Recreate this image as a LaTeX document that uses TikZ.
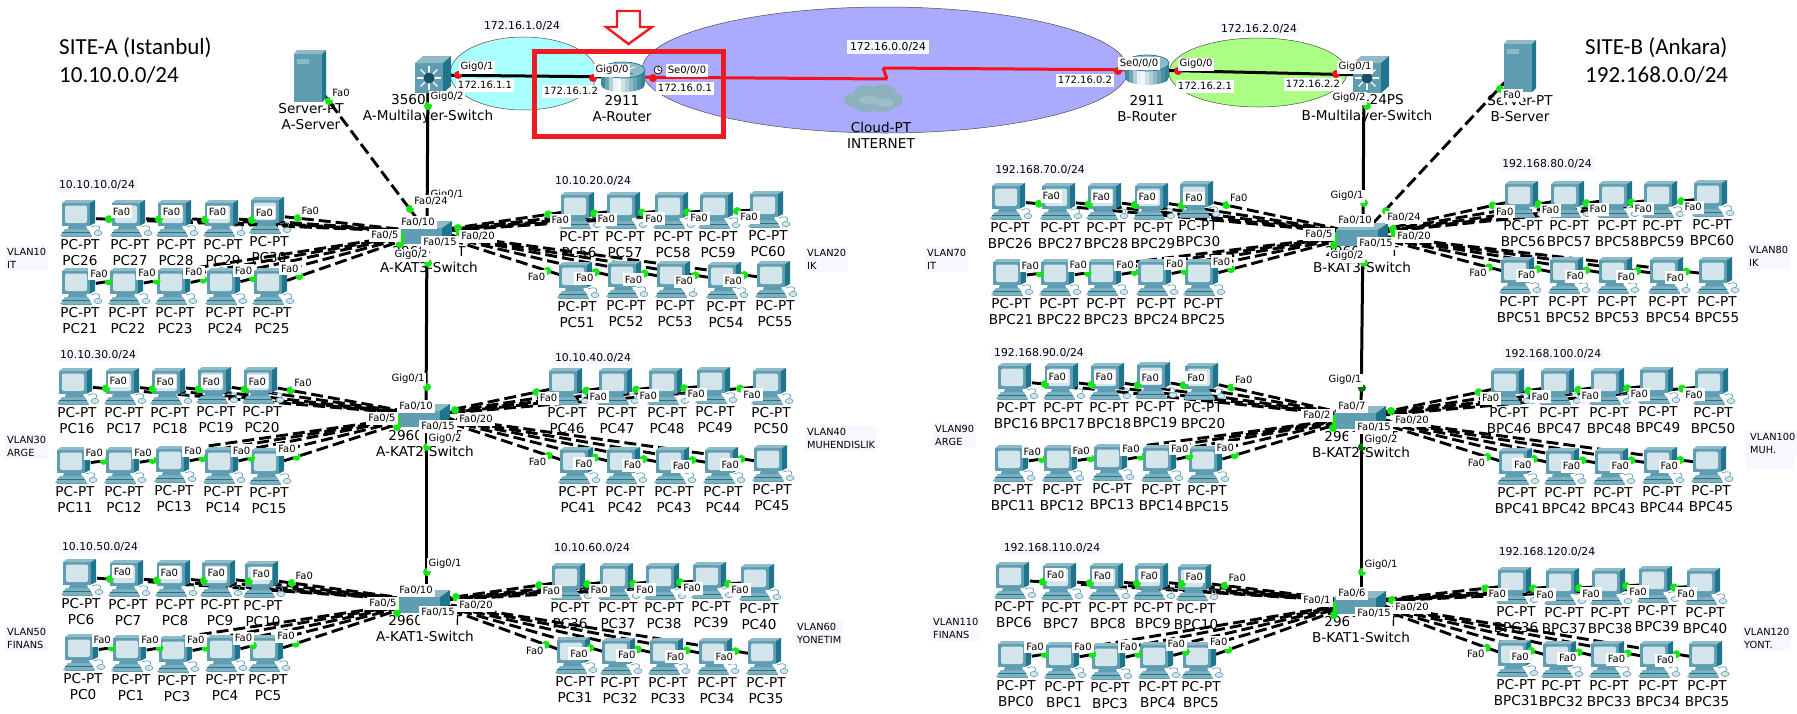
\documentclass[tikz,border=0pt]{standalone}
\usepackage{fontspec}
\setmainfont{DejaVu Sans}
\newfontfamily\titlefont{Carlito}
\usetikzlibrary{calc,shapes.geometric}
\definecolor{monfront}{HTML}{5E9DB2}
\definecolor{montop}{HTML}{8FBBC8}
\definecolor{monside}{HTML}{1F758C}
\definecolor{screen}{HTML}{D3E4EB}
\definecolor{pcbase}{HTML}{7FB0C0}
\definecolor{gdot}{HTML}{14E614}
\definecolor{rdot}{HTML}{F5101A}
\definecolor{boxred}{HTML}{ED1C24}
\definecolor{notebg}{HTML}{F7F8FF}
\definecolor{netcyan}{HTML}{AAFFFF}
\definecolor{netblue}{HTML}{AAAAFF}
\definecolor{netgreen}{HTML}{AAFF84}
\tikzset{
  x=1pt,y=-1pt,
  anchorpt/.style={inner sep=0pt,outer sep=0pt,minimum size=0pt},
  devlabel/.style={font=\fontsize{13.6}{16}\selectfont,align=center,inner sep=0pt},
  port/.style={font=\fontsize{10}{11}\selectfont,fill=white,inner xsep=2pt,inner ysep=0pt,minimum height=13pt},
  subnet/.style={font=\fontsize{10.8}{13}\selectfont,fill=notebg,inner xsep=3pt,inner ysep=2pt},
  vlan/.style={font=\fontsize{9.8}{13}\selectfont,fill=notebg,align=left,inner sep=2pt,anchor=west},
  sitetitle/.style={font=\titlefont\fontsize{23}{28}\selectfont,align=left,inner sep=0pt,anchor=north west},
  copper/.style={line width=2.9pt,dash pattern=on 12pt off 5pt,black},
  fibre/.style={line width=3pt,black},
  serial/.style={line width=3pt,color=rdot},
  gbar/.style={line width=3.4pt,gdot},
  netzone/.style={draw=black!70,line width=.5pt},
  pcicon/.pic={
    \fill[pcbase] (-19,18)--(-14,11)--(9,11)--(13,18)--cycle;
    \draw[monside,line width=.8pt] (-17,14.5)--(11,14.5);
    \fill[monfront] (-10,7)--(7,7)--(8,11)--(-11,11)--cycle;
    \draw[monside!70,line width=.7pt] (-17,18)--(12.5,18);
    \draw[monfront,line width=.7pt] (12,9) .. controls (20,6) and (22,9) .. (20,12);
    \filldraw[draw=monfront,fill=screen,line width=.6pt] (19,15) ellipse (4 and 2.6);
    \fill[monfront] (-17,-15)--(11,-15)--(11,7.5)--(-17,7.5)--cycle;
    \fill[montop] (-17,-15)--(-13,-18)--(16,-18)--(11,-15)--cycle;
    \fill[monside] (11,-15)--(16,-18)--(16,5)--(11,7.5)--cycle;
    \fill[screen,rounded corners=2pt] (-14,-12.5) rectangle (8,5);
  },
  swicon/.pic={
    \fill[montop] (-26,-4)--(-20,-11)--(26,-11)--(16,-4)--cycle;
    \fill[monfront] (-26,-4) rectangle (16,12);
    \fill[monside] (16,-4)--(26,-11)--(26,3)--(16,12)--cycle;
  },
  mlicon/.pic={
    \fill[monfront] (-18,-12) rectangle (10,18);
    \fill[montop] (-18,-12)--(-10,-19)--(18,-19)--(10,-12)--cycle;
    \fill[monside] (10,-12)--(18,-19)--(18,11)--(10,18)--cycle;
    \foreach \a in {0,45,...,315}{\draw[white,line width=1.1pt] (-4,3)--++(\a:12);}
    \fill[monside!70!black] (-4,3) circle (5.5);
  },
  routericon/.pic={
    \begin{scope}
      \clip (-22,-7) -- (-22,8) arc[start angle=180,end angle=0,x radius=22,y radius=7] -- (22,-7) -- cycle;
      \foreach \sx/\mixp in {-22/85,-18/65,-14/35,-10/10,-6/5,-2/20,2/35,6/50,10/65,14/80,18/90}
        {\fill[monside!\mixp!white] (\sx,-8) rectangle (\sx+4.3,16);}
    \end{scope}
    \fill[montop] (0,-7) ellipse (22 and 8);
    \draw[monside,line width=.7pt] (0,-7) ellipse (22 and 8);
    \draw[white,line width=.9pt] (-12,-9)--(-2,-6) (12,-10)--(3,-7);
    \draw[monside,line width=.7pt] (-9,-3)--(-1,-5) (10,-3)--(2,-5);
  },
  servericon/.pic={
    \fill[monfront] (-16,-22) rectangle (12,26);
    \fill[montop] (-16,-22)--(-13,-26)--(16,-26)--(12,-22)--cycle;
    \fill[monside] (12,-22)--(16,-26)--(16,22)--(12,26)--cycle;
    \fill[montop] (-13,-17) rectangle (-1,-12);
  },
  cloudicon/.pic={
    \fill[montop!85!gray] (-24,2) ellipse (9 and 7) (-12,-4) ellipse (12 and 9) (6,-5) ellipse (13 and 9)
       (18,2) ellipse (8 and 7) (4,5) ellipse (16 and 9) (-12,6) ellipse (12 and 8);
    \fill[monfront!50!white,opacity=.45] (-8,2) ellipse (10 and 4) (8,5) ellipse (9 and 4);
  },
  clockicon/.pic={
    \filldraw[draw=black,fill=white,line width=.7pt] (0,0) circle (4);
    \draw[black,line width=.7pt] (0,-2.8)--(0,0)--(2.4,0.8);
  }
}
\newcommand\PCBODY[3]{}
\newcommand\PCROW[4]{\foreach \n/\x/\y in {#4}{\PCBODY{#1}{#2}{#3}}}
\newcommand\ALLROWS{%
\PCROW{SA3}{12.5}{-7.5}{PC26/79/218,PC27/129/218,PC28/175/218,PC29/222/218,PC30/268/215}%
\PCROW{SA3}{-9.5}{-7.5}{PC21/79/286,PC22/127/286,PC23/174/286,PC24/224/286,PC25/271/286}%
\PCROW{SA3}{12}{6}{PC56/578/210,PC57/624/210,PC58/672/210,PC59/717/210,PC60/767/209}%
\PCROW{SA3}{-11}{6}{PC51/576/280,PC52/625/279,PC53/674/279,PC54/725/280,PC55/774/279}%
\PCROW{SA2}{12.5}{-7.5}{PC16/76/386,PC17/123/386,PC18/169/386,PC19/215/385,PC20/261/385}%
\PCROW{SA2}{-9.5}{-7.5}{PC11/74/465,PC12/123/465,PC13/173/464,PC14/222/465,PC15/268/466}%
\PCROW{SA2}{12}{6}{PC46/566/386,PC47/616/386,PC48/666/386,PC49/714/385,PC50/770/386}%
\PCROW{SA2}{-11}{6}{PC41/577/465,PC42/624/465,PC43/673/465,PC44/722/465,PC45/771/463}%
\PCROW{SA1}{12.5}{-7.5}{PC6/80/577,PC7/127/578,PC8/174/578,PC9/219/578,PC10/262/579}%
\PCROW{SA1}{-9.5}{-7.5}{PC0/82/652,PC1/130/653,PC3/176/654,PC4/224/653,PC5/267/653}%
\PCROW{SA1}{12}{6}{PC36/569/581,PC37/617/581,PC38/663/581,PC39/710/580,PC40/758/582}%
\PCROW{SA1}{-11}{6}{PC31/574/655,PC32/619/656,PC33/667/656,PC34/716/656,PC35/765/656}%
\PCROW{SB3}{12.5}{-7.5}{BPC26/1009/201,BPC27/1059/201,BPC28/1105/201,BPC29/1152/201,BPC30/1197/199}%
\PCROW{SB3}{-9.5}{-7.5}{BPC21/1010/277,BPC22/1058/277,BPC23/1105/277,BPC24/1155/277,BPC25/1202/277}%
\PCROW{SB3}{12}{6}{BPC56/1522/199,BPC57/1568/199,BPC58/1616/199,BPC59/1661/199,BPC60/1711/198}%
\PCROW{SB3}{-11}{6}{BPC51/1518/275,BPC52/1567/275,BPC53/1616/275,BPC54/1667/275,BPC55/1716/275}%
\PCROW{SB2}{12.5}{-7.5}{BPC16/1015/381,BPC17/1062/381,BPC18/1108/381,BPC19/1154/380,BPC20/1202/381}%
\PCROW{SB2}{-9.5}{-7.5}{BPC11/1012/463,BPC12/1061/463,BPC13/1111/462,BPC14/1160/463,BPC15/1206/464}%
\PCROW{SB2}{12}{6}{BPC46/1508/386,BPC47/1558/386,BPC48/1608/386,BPC49/1657/385,BPC50/1712/386}%
\PCROW{SB2}{-11}{6}{BPC41/1516/466,BPC42/1563/466,BPC43/1612/466,BPC44/1661/465,BPC45/1710/464}%
\PCROW{SB1}{12.5}{-7.5}{BPC6/1013/580,BPC7/1060/581,BPC8/1107/581,BPC9/1152/581,BPC10/1195/582}%
\PCROW{SB1}{-9.5}{-7.5}{BPC0/1015/659,BPC1/1063/660,BPC3/1109/661,BPC4/1157/660,BPC5/1200/660}%
\PCROW{SB1}{12}{6}{BPC36/1515/585,BPC37/1563/586,BPC38/1609/586,BPC39/1656/584,BPC40/1704/586}%
\PCROW{SB1}{-11}{6}{BPC31/1515/658,BPC32/1560/659,BPC33/1608/659,BPC34/1657/659,BPC35/1706/659}%
}
\begin{document}
\begin{tikzpicture}
\path[use as bounding box,fill=white] (0,0) rectangle (1797,713);
% network zones
\filldraw[netzone,fill=netcyan] (523.5,73.5) ellipse (73.5 and 36.5);
\filldraw[netzone,fill=netblue] (885,70) ellipse (243 and 63);
\filldraw[netzone,fill=netgreen] (1258,72.5) ellipse (89 and 34.5);
% attachment points
\foreach \n/\x/\y in {SA3/427/232,SA2/426/415,SA1/426/601,SB3/1363/234,SB2/1361/417,SB1/1361/602,
   MLA/428/75,MLB/1364/75,AR/623/77,BR/1147/70,SRVA/310/76,SRVB/1520/66,BOLTA/887/79,BOLTB/883/68}
  {\node[anchorpt] (\n) at (\x,\y) {};}
% pc attachment nodes and names
\renewcommand\PCBODY[3]{\node[anchorpt] (\n) at (\x,\y) {};\node[devlabel] (\n-name) at (\x+1,\y+35) {PC-PT\\\n};}
\ALLROWS
% device names
\node[devlabel] (mlaname) at (428,109) {3560-24PS\\A-Multilayer-Switch};
\node[devlabel] (arname) at (622,109) {2911\\A-Router};
\node[devlabel] (brname) at (1147,109) {2911\\B-Router};
\node[devlabel] (mlbname) at (1367,109) {3560-24PS\\B-Multilayer-Switch};
\node[devlabel] (sraname) at (311,117) {Server-PT\\A-Server};
\node[devlabel] (srbname) at (1520,109) {Server-PT\\B-Server};
\node[devlabel] (cloudname) at (881,135) {Cloud-PT\\INTERNET};
\node[devlabel] (k3a) at (429,259.5) {2960-24TT\\A-KAT3-Switch};
\node[devlabel] (k2a) at (425,444) {2960-24TT\\A-KAT2-Switch};
\node[devlabel] (k1a) at (425,628.5) {2960-24TT\\A-KAT1-Switch};
\node[devlabel] (k3b) at (1362,260) {2960-24TT\\B-KAT3-Switch};
\node[devlabel] (k2b) at (1361,445) {2960-24TT\\B-KAT2-Switch};
\node[devlabel] (k1b) at (1361,629.5) {2960-24TT\\B-KAT1-Switch};
% the switch model text is mostly masked in the reference
\fill[white] (420,616) rectangle (456,626.5);
\fill[white] (1349,617) rectangle (1392,627.5);
\fill[white] (430,247) rectangle (456,257);
\fill[white] (1366,247) rectangle (1392,257);
\fill[white] (419,431) rectangle (427,441);
\fill[white] (1348,432) rectangle (1361,442);
% links
\renewcommand\PCBODY[3]{\draw[copper] (\n) -- (#1);}
\ALLROWS
\draw[copper] (SRVA) -- (SA3);
\draw[copper] (SRVB) -- (SB3);
\draw[fibre] (MLA) -- (SA3);
\draw[fibre] (SA3) -- (SA2);
\draw[fibre] (SA2) -- (SA1);
\draw[fibre] (MLB) -- (SB3);
\draw[fibre] (SB3) -- (SB2);
\draw[fibre] (SB2) -- (SB1);
\draw[fibre] (MLA) -- (AR);
\draw[fibre] (BR) -- (MLB);
\draw[serial] (AR) -- (BOLTA) -- (BOLTB) -- (BR);
% icons
\renewcommand\PCBODY[3]{\pic at (\n) {pcicon};}
\ALLROWS
\pic at (426,232) {swicon};
\pic at (424,415) {swicon};
\pic at (424,601) {swicon};
\pic at (1362,234) {swicon};
\pic at (1360,417) {swicon};
\pic at (1360,602) {swicon};
\pic at (433,75) {mlicon};
\pic at (1371,75) {mlicon};
\pic at (623,77) {routericon};
\pic at (1147,70) {routericon};
\pic at (310,76) {servericon};
\pic at (1520,66) {servericon};
\pic at (877,98) {cloudicon};
% green and red port lights
\renewcommand\PCBODY[3]{\fill[gdot] ($(\n)!30pt!(#1)$) circle (4);}
\ALLROWS
\foreach \x/\y in {329/101,428/106,410/209,428/204,428/263,427/387,427/447,427/572,
   1500/89,1367/106,1386/211,1364/203,1364/263,1362/572,
   458/228,455/410,456/597,1393/229,1391/411,1392/600,400/244,397/427,397/613,1334/245,1333/428,1334/615}
   {\fill[gdot] (\x,\y) circle (4);}
\foreach \x/\y in {1362/388,1362/447}{\fill[green!45!black] (\x,\y) circle (4);}
\draw[gbar] (402,232)--(402,245);
\draw[gbar] (398,415)--(398,427);
\draw[gbar] (398,600)--(398,613);
\draw[gbar] (1335,232)--(1335,245);
\draw[gbar] (1334,415)--(1334,428);
\draw[gbar] (1335,602)--(1335,615);
\draw[gbar] (458,228)--(458,236);
\draw[gbar] (1393,229)--(1393,237);
\foreach \x/\y in {458/75,593/78,653/78,1118/71,1178/71,1336/74}{\fill[rdot] (\x,\y) circle (4);}
% port labels
\renewcommand\PCBODY[3]{\node[port] (\n-port) at ($($(\n)!30pt!(#1)$)+(#2,#3)$) {Fa0};}
\ALLROWS
\foreach \id/\x/\y/\t in {
  d1/408/379/Gig0\slash 1,d2/416/406/Fa0\slash 10,d3/382/418/Fa0\slash 5,d4/438/426/Fa0\slash 15,
  d5/476/419/Fa0\slash 20,d6/445/439/Gig0\slash 2,
  e1/445/564/Gig0\slash 1,e2/416/590/Fa0\slash 10,e3/383/603/Fa0\slash 5,e4/438/612/Fa0\slash 15,e5/476/605/Fa0\slash 20,
  f1/1347/196/Gig0\slash 1,f2/1404/217/Fa0\slash 24,f3/1355/220/Fa0\slash 10,f4/1319/234/Fa0\slash 5,
  f5/1376/243/Fa0\slash 15,f6/1414/236/Fa0\slash 20,f7/1347/256/Gig0\slash 2,
  g1/1345/380/Gig0\slash 1,g2/1352/406/Fa0\slash 7,g3/1317/415/Fa0\slash 2,g4/1374/427/Fa0\slash 15,
  g5/1412/420/Fa0\slash 20,g6/1381/440/Gig0\slash 2,
  h1/1381/565/Gig0\slash 1,h2/1352/593/Fa0\slash 6,h3/1317/600/Fa0\slash 1,h4/1374/613/Fa0\slash 15,h5/1412/607/Fa0\slash 20,
  a1/477/67/Gig0\slash 1,a2/485/85/172.16.1.1,a3/571/91/172.16.1.2,a4/612/70/Gig0\slash 0,
  a5/687/70/Se0\slash 0\slash 0,a6/685/88/172.16.0.1,a7/447/97/Gig0\slash 2,a8/341/93/Fa0,
  b1/1139/63/Se0\slash 0\slash 0,b2/1196/64/Gig0\slash 0,b3/1085/80/172.16.0.2,b4/1205/86/172.16.2.1,
  b5/1313/84/172.16.2.2,b6/1355/67/Gig0\slash 1,b7/1349/98/Gig0\slash 2,b8/1512/95/Fa0,
  c1/447/195/Gig0\slash 1,c2/431/201/Fa0\slash 24,c3/418/222/Fa0\slash 10,c4/385/235/Fa0\slash 5,
  c5/440/242/Fa0\slash 15,c6/478/236/Fa0\slash 20,c7/411/255/Gig0\slash 2}
  {\node[port] (\id) at (\x,\y) {\t};}
\pic at (658,70) {clockicon};
% subnets
\foreach \id/\x/\y/\t in {
  sn1/522/26/172.16.1.0\slash 24,sn2/888/47/172.16.0.0\slash 24,sn3/1259/29/172.16.2.0\slash 24,
  sn4/97/185/10.10.10.0\slash 24,sn5/593/181/10.10.20.0\slash 24,sn6/98/355/10.10.30.0\slash 24,
  sn7/593/358/10.10.40.0\slash 24,sn8/100/547/10.10.50.0\slash 24,sn9/592/548/10.10.60.0\slash 24,
  sn10/1040/170/192.168.70.0\slash 24,sn11/1547/164/192.168.80.0\slash 24,sn12/1039/353/192.168.90.0\slash 24,
  sn13/1553/354/192.168.100.0\slash 24,sn14/1052/548/192.168.110.0\slash 24,sn15/1547/552/192.168.120.0\slash 24}
  {\node[subnet] (\id) at (\x,\y) {\t};}
% vlans
\fill[notebg] (1746,430) rectangle (1794,469);
\foreach \id/\x/\y/\a/\b in {
  v10/5/258.5/VLAN10/IT,v20/805/259.5/VLAN20/IK,v30/5/446.5/VLAN30/ARGE,v40/805/438.5/VLAN40/MUHENDISLIK,
  v50/5/638.5/VLAN50/FINANS,v60/795/633.5/VLAN60/YONETIM,v70/925/259.5/VLAN70/IT,v80/1747/256.5/VLAN80/IK,
  v90/933/435.5/VLAN90/ARGE,v100/1748/443.5/VLAN100/MUH.,v110/931/628.5/VLAN110/FINANS,v120/1742/638.5/VLAN120/YONT.}
  {\node[vlan] (\id) at (\x,\y) {\a\\\b};}
% titles
\node[sitetitle] (sitea) at (59,37.5) {SITE-A (Istanbul)\\10.10.0.0/24};
\node[sitetitle] (siteb) at (1585,37.5) {SITE-B (Ankara)\\192.168.0.0/24};
% highlight box and arrow
\draw[boxred,line width=4.6pt] (534.5,51.5) rectangle (723.5,136.5);
\draw[boxred,line width=2.4pt,line join=miter] (617,11)--(640,11)--(640,27)--(652,27)--(628.5,44)--(606,27)--(617,27)--cycle;
\end{tikzpicture}
\end{document}
